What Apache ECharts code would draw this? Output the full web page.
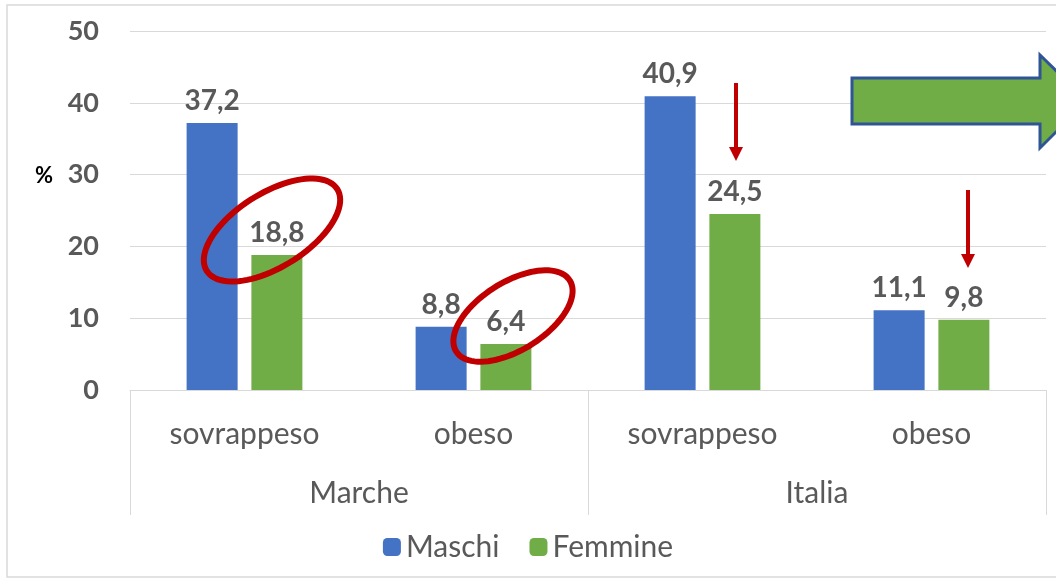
<!DOCTYPE html>
<html>
<head>
<meta charset="utf-8">
<script src="https://cdn.jsdelivr.net/npm/echarts@6/dist/echarts.min.js"></script>
<style>
  html, body { margin: 0; padding: 0; background: #fff; }
  #chart { width: 1056px; height: 581px; }
</style>
</head>
<body>
<div id="chart"></div>
<script>
// dati
const categories = ['sovrappeso', 'obeso', 'sovrappeso', 'obeso']
const groups = ['Marche', 'Italia']
const maschi = [37.2, 8.8, 40.9, 11.1]
const femmine = [18.8, 6.4, 24.5, 9.8]
const yTicks = [0, 10, 20, 30, 40, 50]

const FONT = 'Lato, "Liberation Sans", sans-serif'
const GREY = '#595959'

// ellisse come poligono (annotazione)
function ellipse(cx, cy, rx, ry, deg) {
  const a = deg * Math.PI / 180
  const pts = []
  for (let i = 0; i < 90; i++) {
    const t = i / 90 * Math.PI * 2
    const x = rx * Math.cos(t), y = ry * Math.sin(t)
    pts.push([cx + x * Math.cos(a) - y * Math.sin(a), cy + x * Math.sin(a) + y * Math.cos(a)])
  }
  return pts
}

function redArrow(x, y1, y2) {
  return [
    { type: 'line', z: 100, shape: { x1: x, y1: y1, x2: x, y2: y2 - 12 }, style: { stroke: '#C00000', lineWidth: 4 } },
    { type: 'polygon', z: 100, shape: { points: [[x - 7, y2 - 14], [x + 7, y2 - 14], [x, y2]] }, style: { fill: '#C00000' } },
  ]
}

const label = {
  show: true,
  position: 'top',
  distance: 8,
  fontFamily: FONT,
  fontSize: 28,
  fontWeight: 'bold',
  color: GREY,
  formatter: p => String(p.value).replace('.', ','),
}

const chart = echarts.init(document.getElementById('chart'))

const option = {
  animation: false,
  textStyle: { fontFamily: FONT },
  grid: { left: 130, right: 10, top: 31, bottom: 191 },
  legend: {
    top: 527,
    left: 'center',
    itemWidth: 18,
    itemHeight: 18,
    itemGap: 30,
    textStyle: { fontSize: 30, color: GREY, fontFamily: FONT },
    data: ['Maschi', 'Femmine'],
  },
  xAxis: [
    {
      type: 'category',
      data: categories,
      axisLine: { lineStyle: { color: '#d9d9d9', width: 1 } },
      axisTick: { show: false },
      axisLabel: { fontSize: 30, color: GREY, margin: 29, fontFamily: FONT },
    },
    {
      type: 'category',
      data: groups,
      position: 'bottom',
      gridIndex: 0,
      axisLine: { show: false },
      axisTick: { show: true, length: 125, lineStyle: { color: '#d9d9d9' } },
      axisLabel: { fontSize: 30, color: GREY, margin: 88, fontFamily: FONT },
    },
  ],
  yAxis: {
    type: 'value',
    min: 0,
    max: 50,
    interval: 10,
    axisLine: { show: false },
    axisTick: { show: false },
    splitLine: { lineStyle: { color: '#d9d9d9' } },
    axisLabel: {
      fontSize: 27, fontWeight: 'bold', color: GREY, margin: 31, fontFamily: FONT,
      formatter: v => yTicks.includes(v) ? String(v) : '',
    },
  },
  series: [
    {
      name: 'Maschi', type: 'bar', data: maschi, xAxisIndex: 0,
      barWidth: 51, barGap: '27%',
      itemStyle: { color: '#4472C4' }, label: label,
    },
    {
      name: 'Femmine', type: 'bar', data: femmine, xAxisIndex: 0,
      barWidth: 51,
      itemStyle: { color: '#70AD47' }, label: label,
    },
  ],
  graphic: [
    { type: 'rect', z: -1, shape: { x: 7, y: 5, width: 1070, height: 572 }, style: { fill: 'none', stroke: '#d9d9d9', lineWidth: 1.5 }, silent: true },
    { type: 'text', x: 35, y: 165, style: { text: '%', fontSize: 22, fontWeight: 'bold', fill: '#000', fontFamily: FONT } },
    { type: 'polygon', z: 100, shape: { points: ellipse(272, 230, 77, 37, -32) }, style: { fill: 'none', stroke: '#C00000', lineWidth: 6 } },
    { type: 'polygon', z: 100, shape: { points: ellipse(513, 316, 67, 34, -32) }, style: { fill: 'none', stroke: '#C00000', lineWidth: 6 } },
    ...redArrow(736, 83, 161),
    ...redArrow(968, 190, 268),
    {
      type: 'polygon', z: 100,
      shape: { points: [[852, 78], [1040, 78], [1040, 55], [1087, 101], [1040, 148], [1040, 124], [852, 124]] },
      style: { fill: '#70AD47', stroke: '#2F5597', lineWidth: 3 },
    },
  ],
}

chart.setOption(option)
</script>
</body>
</html>
